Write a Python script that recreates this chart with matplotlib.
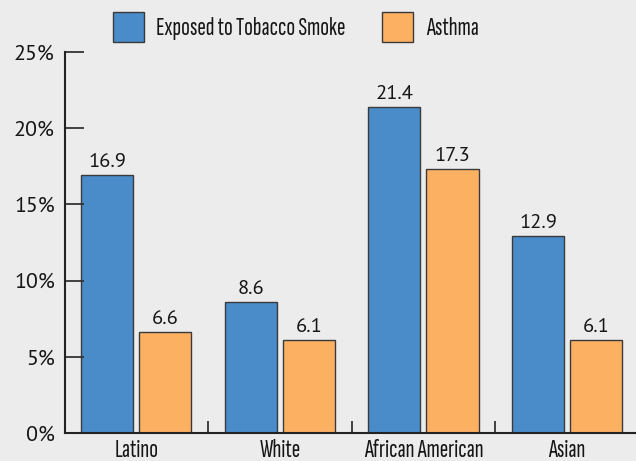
import matplotlib
matplotlib.use("Agg")
import matplotlib.pyplot as plt
from matplotlib.patches import Rectangle
import numpy as np

categories = ["Latino", "White", "African American", "Asian"]
smoke = [16.9, 8.6, 21.4, 12.9]
asthma = [6.6, 6.1, 17.3, 6.1]
series_names = ["Exposed to Tobacco Smoke", "Asthma"]
yticks = [0, 5, 10, 15, 20, 25]
ytick_labels = ["0%", "5%", "10%", "15%", "20%", "25%"]

BG = "#ececec"
BLUE = "#4a8cca"
ORANGE = "#fbb062"
EDGE = "#3a3a3a"
TXT = "#161616"
NUM_FONT = ["PT Sans", "DejaVu Sans"]
COND_FONT = ["Sofia Sans Extra Condensed", "Fira Sans Extra Condensed", "DejaVu Sans"]

W, H = 636, 461
fig = plt.figure(figsize=(W / 100, H / 100), dpi=100, facecolor=BG)
ax = fig.add_axes([64.5 / W, (H - 433) / H, (W - 64.5) / W, 381 / H])
ax.set_facecolor(BG)

x = np.arange(len(categories))
bw = 52 / 143.5
gap = 6 / 143.5
off = (bw + gap) / 2
b1 = ax.bar(x - off, smoke, bw, color=BLUE, edgecolor=EDGE, linewidth=1.0)
b2 = ax.bar(x + off, asthma, bw, color=ORANGE, edgecolor=EDGE, linewidth=1.0)

value_texts = []
for bars, vals in ((b1, smoke), (b2, asthma)):
    for rect, v in zip(bars, vals):
        t = ax.annotate(f"{v:.1f}", (rect.get_x() + rect.get_width() / 2, v),
                        xytext=(0, 5.8), textcoords="offset points",
                        ha="center", va="baseline", fontsize=16, family=NUM_FONT,
                        fontweight="normal", color=TXT)
        value_texts.append(t)

ax.set_xlim(-0.5, 3.48)
ax.set_ylim(0, 25)
ax.set_yticks(yticks)
ax.set_yticklabels(ytick_labels, family=NUM_FONT, fontsize=16, fontweight="normal", color=TXT)
ax.tick_params(axis="y", direction="in", length=14, width=1.3, pad=7, color="#333333")

ax.set_xticks(x)
ax.set_xticklabels(categories, family=COND_FONT, fontsize=16, fontweight="normal", color=TXT)
ax.tick_params(axis="x", which="major", length=0, pad=4)
ax.set_xticks([0.5, 1.5, 2.5], minor=True)
ax.tick_params(axis="x", which="minor", direction="in", length=9, width=1.3, color="#333333")

for s in ("top", "right"):
    ax.spines[s].set_visible(False)
for s in ("left", "bottom"):
    ax.spines[s].set_linewidth(1.5)
    ax.spines[s].set_color("#222222")

# legend
def fx(px):
    return px / W

def fy(py):
    return 1 - py / H

fig.add_artist(Rectangle((fx(113.5), fy(42.3)), fx(31), 30.6 / H, transform=fig.transFigure,
                         facecolor=BLUE, edgecolor=EDGE, linewidth=1.0))
leg1 = fig.text(fx(156), fy(35), series_names[0], family=COND_FONT, fontsize=16,
                fontweight="normal", va="baseline", ha="left", color=TXT)
fig.add_artist(Rectangle((fx(382.3), fy(41.8)), fx(30.5), 30.1 / H, transform=fig.transFigure,
                         facecolor=ORANGE, edgecolor=EDGE, linewidth=1.0))
leg2 = fig.text(fx(426), fy(35), series_names[1], family=COND_FONT, fontsize=16,
                fontweight="normal", va="baseline", ha="left", color=TXT)

# fit font sizes to the reference's text widths
fig.canvas.draw()
r = fig.canvas.get_renderer()

def ratio(t, target):
    return target / t.get_window_extent(r).width

xl = ax.get_xticklabels()
k = np.mean([ratio(xl[2], 120.6), ratio(xl[0], 43), ratio(xl[1], 42), ratio(xl[3], 37)])
for t in xl:
    t.set_fontsize(t.get_fontsize() * k)
yl = ax.get_yticklabels()
ky = ratio(yl[5], 41)
for t in yl:
    t.set_fontsize(t.get_fontsize() * ky)
kv = ratio(value_texts[0], 38)
for t in value_texts:
    t.set_fontsize(t.get_fontsize() * kv)
kl = np.mean([ratio(leg1, 185.7), ratio(leg2, 54)])
leg1.set_fontsize(leg1.get_fontsize() * kl)
leg2.set_fontsize(leg2.get_fontsize() * kl)

fig.savefig("out.png", dpi=100, facecolor=BG)
